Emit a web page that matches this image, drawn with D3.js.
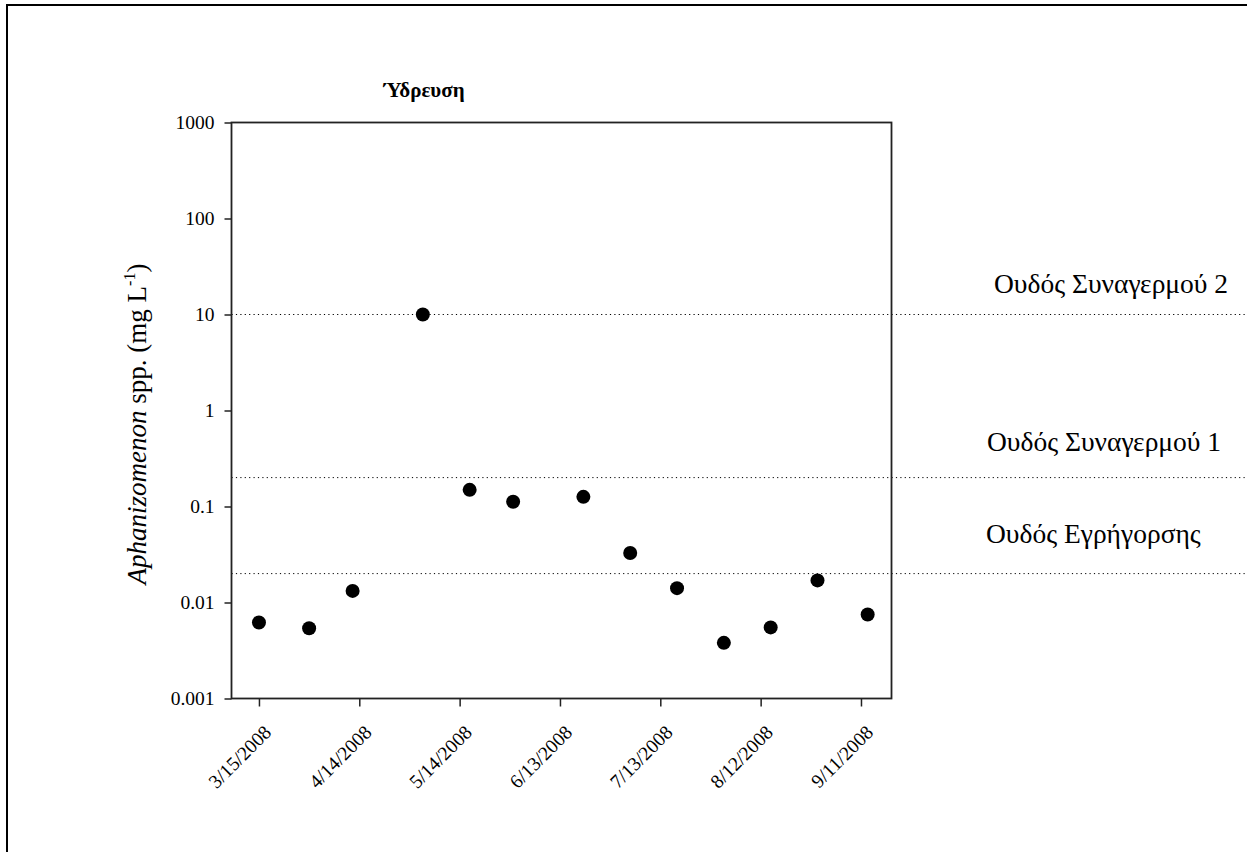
<!DOCTYPE html>
<html>
<head>
<meta charset="utf-8">
<script src="https://cdn.jsdelivr.net/npm/d3@7"></script>
<style>
  body { margin: 0; background: #fff; }
  svg { display: block; font-family: "Liberation Serif", "Times New Roman", serif; }
  .tick-label { font-size: 19.5px; fill: #000; }
  .threshold { stroke: #000; stroke-width: 1; stroke-dasharray: 1.2 3.2; }
  .threshold-label { font-size: 27.5px; fill: #000; }
</style>
</head>
<body>
<svg id="chart" width="1247" height="852"></svg>
<script>
// sampling dates and Aphanizomenon spp. biomass (mg/L)
const sampleDates = ["2008-03-15", "2008-03-30", "2008-04-12", "2008-05-03", "2008-05-17", "2008-05-30",
    "2008-06-20", "2008-07-04", "2008-07-18", "2008-08-01", "2008-08-15", "2008-08-29", "2008-09-13"];
const biomass = [0.0062, 0.0054, 0.0132, 10.0, 0.149, 0.112, 0.126, 0.0328, 0.0141, 0.0038, 0.0055, 0.017, 0.0075];

// alert levels
const thresholdNames = ["Ουδός Συναγερμού 2", "Ουδός Συναγερμού 1", "Ουδός Εγρήγορσης"];
const thresholdValues = [10, 0.2, 0.02];

// axes
const xDomain = ["2008-03-06T19:00", "2008-09-20T03:00"];
const xTickDates = ["2008-03-15", "2008-04-14", "2008-05-14", "2008-06-13", "2008-07-13", "2008-08-12", "2008-09-11"];
const xMinorDates = ["2008-03-30", "2008-04-29", "2008-05-29", "2008-06-28", "2008-07-28", "2008-08-27"];
const yDomain = [0.001, 1000];
const yTickValues = [0.001, 0.01, 0.1, 1, 10, 100, 1000];
const yTickLabels = ["0.001", "0.01", "0.1", "1", "10", "100", "1000"];

const title = "Ύδρευση";

const parseDay = d3.utcParse("%Y-%m-%d");
const parseHour = d3.utcParse("%Y-%m-%dT%H:%M");
const fmtDate = d3.utcFormat("%-m/%-d/%Y");

const plotL = 231.5, plotR = 891.5, plotT = 122.5, plotB = 698.5;
const serif = "'Liberation Serif', 'Times New Roman', serif";

const svg = d3.select("#chart");

// outer frame (runs off the right and bottom edges)
svg.append("rect")
    .attr("x", 7).attr("y", 5)
    .attr("width", 1400).attr("height", 1000)
    .attr("fill", "none")
    .attr("stroke", "#000")
    .attr("stroke-width", 2);

const x = d3.scaleUtc()
    .domain(xDomain.map(parseHour))
    .range([plotL, plotR]);

const y = d3.scaleLog()
    .domain(yDomain)
    .range([plotB, plotT]);

// threshold lines + labels
const labelPos = [[994, 293], [987, 451], [986, 543]];

svg.append("g")
    .selectAll("line")
    .data(thresholdValues)
    .enter()
    .append("line")
    .attr("class", "threshold")
    .attr("x1", plotL)
    .attr("x2", 1247)
    .attr("y1", d => y(d))
    .attr("y2", d => y(d));

svg.append("g")
    .selectAll("text")
    .data(thresholdNames)
    .enter()
    .append("text")
    .attr("class", "threshold-label")
    .attr("x", (d, i) => labelPos[i][0])
    .attr("y", (d, i) => labelPos[i][1])
    .text(d => d);

// y axis: majors labelled, minors from the log scale
const yMajor = d3.axisLeft(y)
    .tickValues(yTickValues)
    .tickFormat((d, i) => yTickLabels[i])
    .tickSize(7)
    .tickPadding(10);

const yMinor = d3.axisLeft(y)
    .tickValues(y.ticks().filter(v => !yTickValues.includes(v)))
    .tickFormat("")
    .tickSize(4);

const gy = svg.append("g").attr("transform", `translate(${plotL},0)`);
gy.call(yMinor);
gy.call(yMajor);

// x axis
const xMajor = d3.axisBottom(x)
    .tickValues(xTickDates.map(parseDay))
    .tickFormat(fmtDate)
    .tickSize(8);

const xMinor = d3.axisBottom(x)
    .tickValues(xMinorDates.map(parseDay))
    .tickFormat("")
    .tickSize(4);

const gx = svg.append("g").attr("transform", `translate(0,${plotB})`);
gx.call(xMinor);
gx.call(xMajor);

gx.attr("font-family", serif);
gy.attr("font-family", serif);

gx.selectAll(".tick text")
    .attr("class", "tick-label")
    .attr("text-anchor", "end")
    .attr("transform", "translate(-3,19) rotate(-45)")
    .attr("dy", "0.6em");

gy.selectAll(".tick text").attr("class", "tick-label");

svg.selectAll(".domain").remove();
svg.selectAll(".tick line")
    .attr("stroke", "#222")
    .attr("stroke-width", 1.5);

// plot box
svg.append("rect")
    .attr("x", plotL).attr("y", plotT)
    .attr("width", plotR - plotL).attr("height", plotB - plotT)
    .attr("fill", "none")
    .attr("stroke", "#222")
    .attr("stroke-width", 1.8);

// points
svg.append("g")
    .selectAll("circle")
    .data(biomass)
    .enter()
    .append("circle")
    .attr("cx", (d, i) => x(parseDay(sampleDates[i])))
    .attr("cy", d => y(d))
    .attr("r", 7)
    .attr("fill", "#000");

// title
svg.append("text")
    .attr("x", 424)
    .attr("y", 97)
    .attr("text-anchor", "middle")
    .attr("font-weight", "bold")
    .attr("font-size", 21)
    .text(title);

// y label
const yLabel = svg.append("text")
    .attr("transform", "translate(146,424) rotate(-90)")
    .attr("text-anchor", "middle")
    .attr("font-size", 27);

yLabel.append("tspan").attr("font-style", "italic").text("Aphanizomenon");
yLabel.append("tspan").text(" spp. (mg L");
yLabel.append("tspan").attr("font-size", 16).attr("dy", -11).text("-1");
yLabel.append("tspan").attr("dy", 11).text(")");
</script>
</body>
</html>
